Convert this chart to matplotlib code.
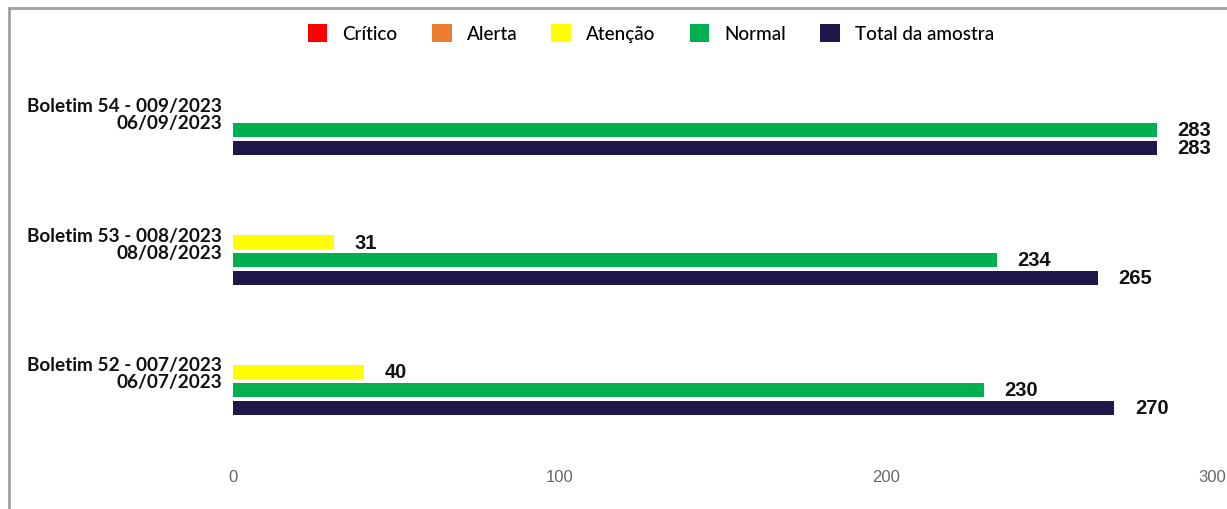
import matplotlib.pyplot as plt
from matplotlib.lines import Line2D
from matplotlib.patches import Patch

# data, bottom to top
categorias = ["Boletim 52 - 007/2023\n06/07/2023",
              "Boletim 53 - 008/2023\n08/08/2023",
              "Boletim 54 - 009/2023\n06/09/2023"]
critico = [0, 0, 0]
alerta = [0, 0, 0]
atencao = [40, 31, 0]
normal = [230, 234, 283]
total = [270, 265, 283]

series = [("Crítico", critico, "#FF0000"),
          ("Alerta", alerta, "#ED7D31"),
          ("Atenção", atencao, "#FFFF00"),
          ("Normal", normal, "#00B050"),
          ("Total da amostra", total, "#21164A")]

fig = plt.figure(figsize=(12.27, 5.10), dpi=100)
ax = fig.add_axes([233 / 1227, 1 - 455 / 510, 979 / 1227, 395 / 510])

slot = 0.138
h = 0.108
ys = list(range(len(categorias)))
for k, (nome, vals, cor) in enumerate(series):
    off = (2 - k) * slot
    pos = [y + off for y in ys]
    ax.barh(pos, vals, height=h, color=cor, label=nome)
    for p, v in zip(pos, vals):
        if v > 0:
            ax.annotate(str(v), (v, p), xytext=(15, 0), textcoords="offset points",
                        va="center", ha="left", fontsize=14.5, fontweight="bold",
                        family="Liberation Sans", color="#111111")

ax.set_xlim(0, 300)
ax.set_ylim(-0.631, 2.408)
ax.set_xticks([0, 100, 200, 300])
ax.set_yticks(ys)
ax.set_yticklabels(categorias, fontsize=13.7, fontweight="bold", family="Lato",
                   color="#111111", linespacing=1.0)
for lab in ax.get_yticklabels():
    lab.set_multialignment("right")
for lab in ax.get_xticklabels():
    lab.set_family(["Liberation Sans Narrow", "DejaVu Sans Condensed", "Liberation Sans"])
    lab.set_fontsize(12)
    lab.set_color("#666666")
ax.tick_params(axis="both", length=0)
ax.tick_params(axis="y", pad=8)
ax.tick_params(axis="x", pad=11)
for s in ax.spines.values():
    s.set_visible(False)

handles = [Patch(facecolor=c, edgecolor="none") for _, _, c in series]
fig.legend(handles, [n for n, _, _ in series], loc="center", bbox_to_anchor=(651 / 1227, 1 - 34 / 510),
           ncol=5, frameon=False, handlelength=1.05, handleheight=1.15, handletextpad=0.8,
           columnspacing=1.8, prop={"family": "Lato", "size": 13.6, "weight": "medium"})

# borda cinza
fig.add_artist(Line2D([8.5 / 1227, 8.5 / 1227], [0, 1 - 8.5 / 510], transform=fig.transFigure,
                      color="#A0A0A0", lw=2))
fig.add_artist(Line2D([8.5 / 1227, 1], [1 - 8.5 / 510, 1 - 8.5 / 510], transform=fig.transFigure,
                      color="#A0A0A0", lw=2))

fig.savefig("out.png", dpi=100)
